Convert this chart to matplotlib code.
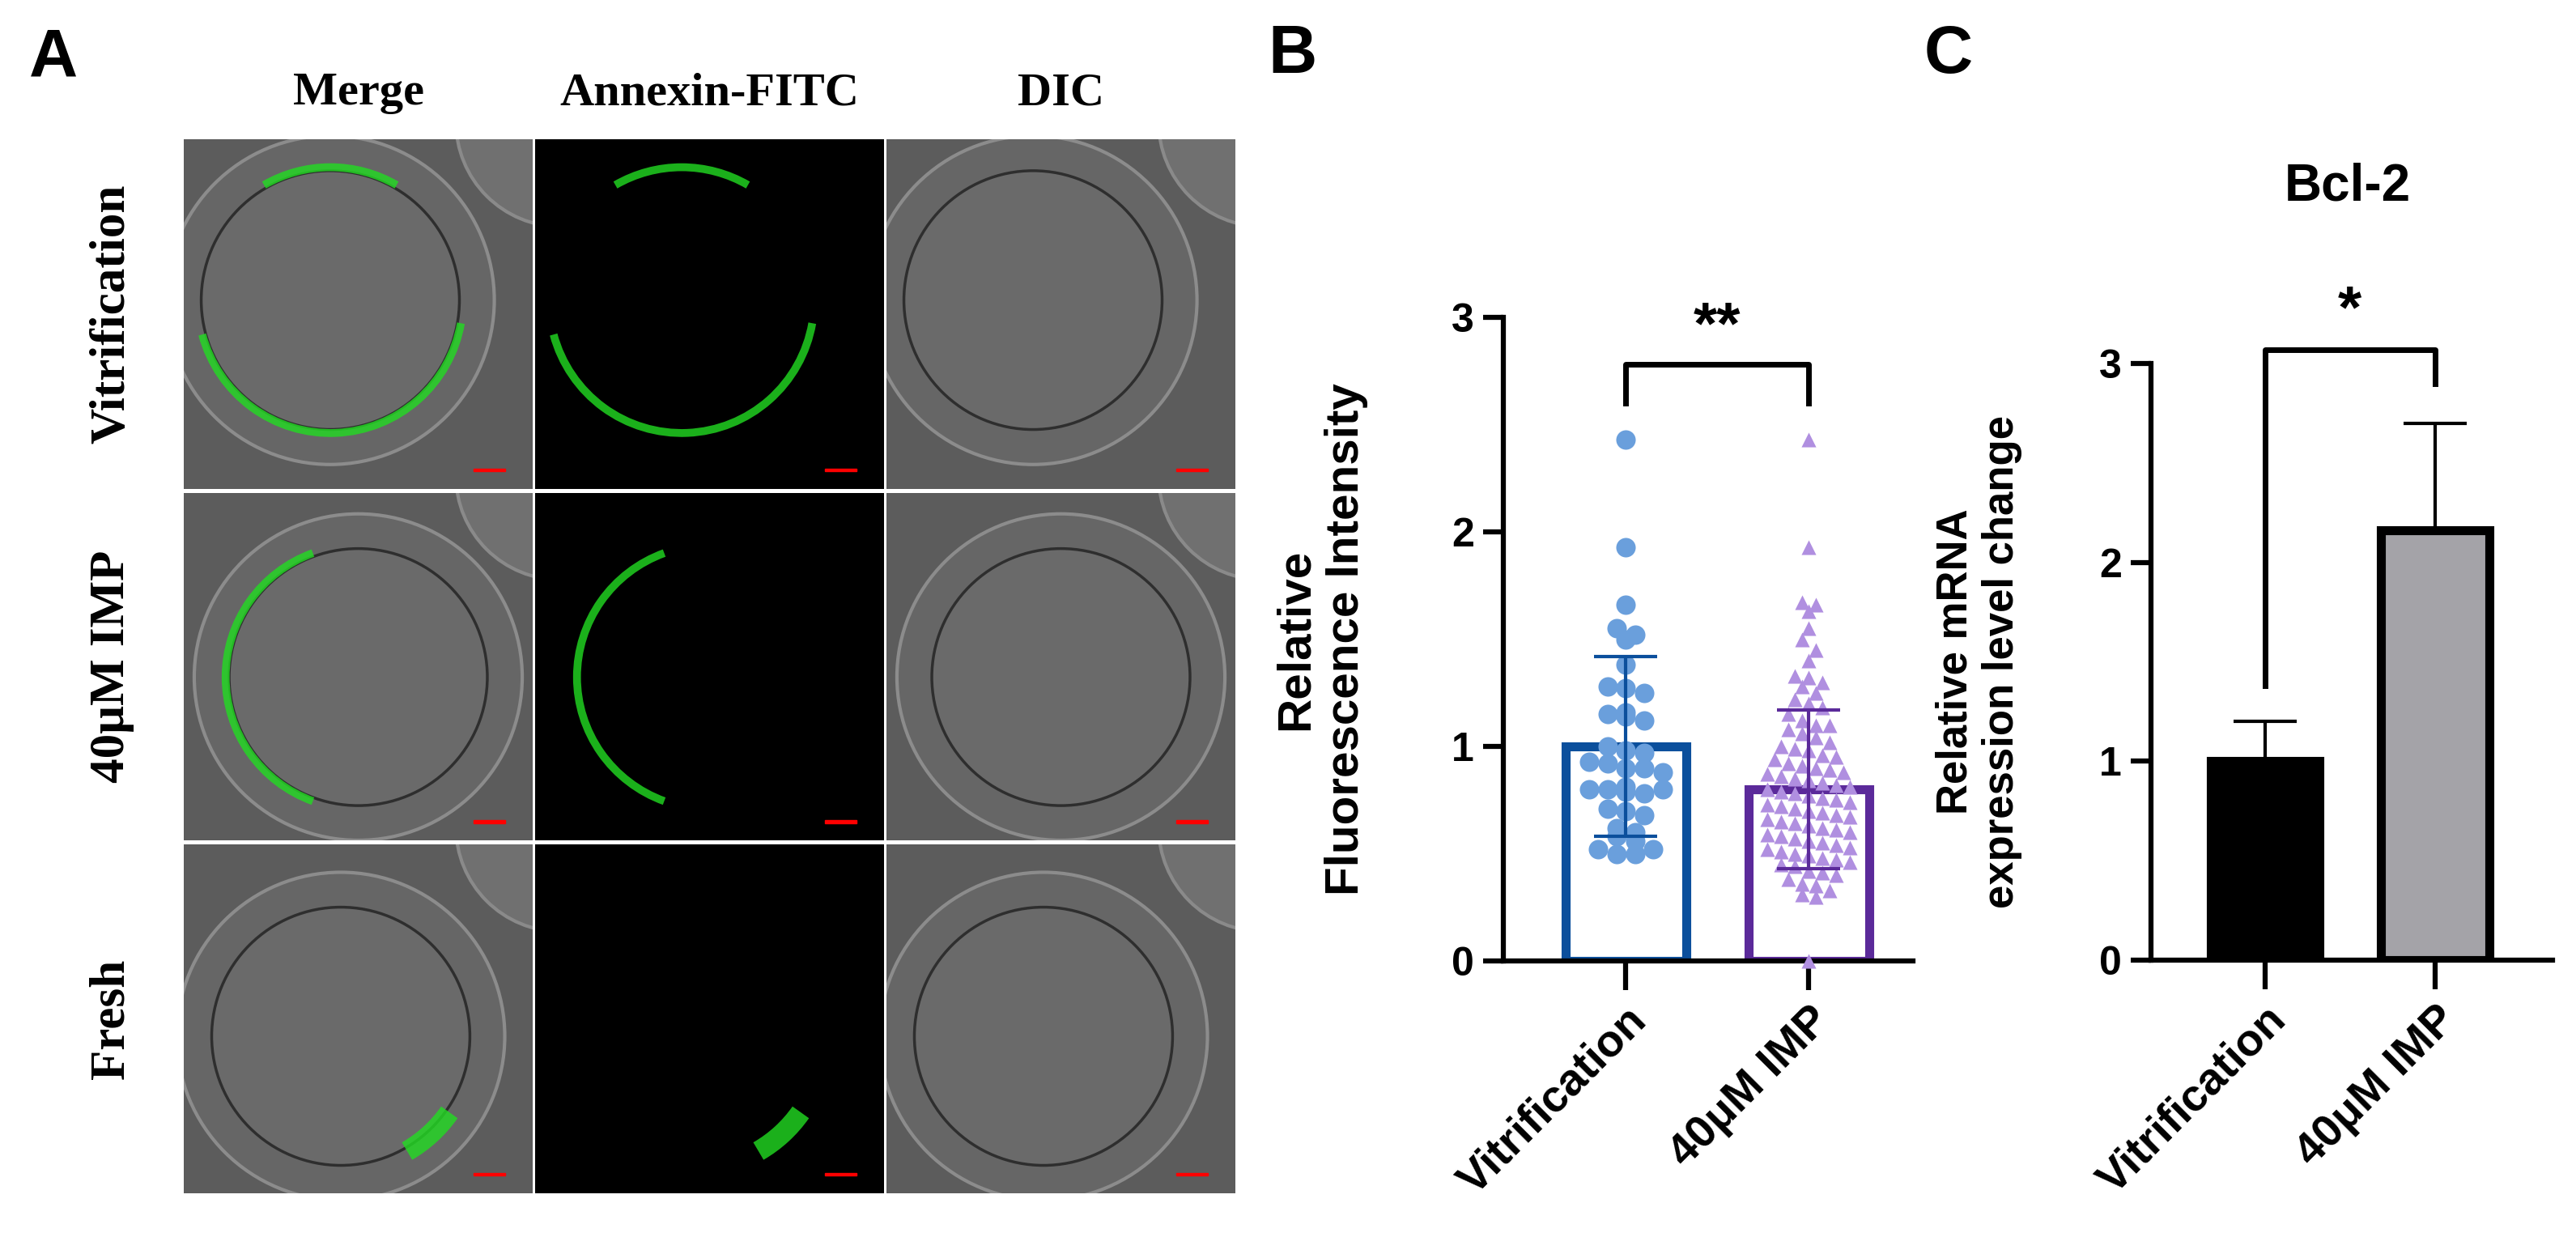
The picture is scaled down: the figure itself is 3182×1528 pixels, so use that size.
import matplotlib.pyplot as plt
import numpy as np
from matplotlib.patches import Circle, Arc, Rectangle

plt.rcParams['font.family'] = ['Liberation Sans', 'DejaVu Sans']

# panel B data
vit_vals = [2.43, 1.93, 1.66, 1.55, 1.52, 1.5, 1.38, 1.28, 1.27, 1.25, 1.16, 1.15, 1.14, 1.12,
            1.0, 0.98, 0.97, 0.93, 0.92, 0.9, 0.9, 0.88, 0.81, 0.8, 0.8, 0.79, 0.78, 0.8,
            0.71, 0.7, 0.68, 0.62, 0.6, 0.58, 0.56, 0.52, 0.5, 0.5, 0.52]
imp_vals = [2.43, 1.93, 1.67, 1.66, 1.63, 1.55, 1.5, 1.45, 1.4, 1.33, 1.32, 1.3, 1.28, 1.25,
            1.22, 1.2, 1.18, 1.15, 1.12, 1.1, 1.1, 1.08, 1.06, 1.04, 1.02, 1.0, 0.99, 0.98,
            0.96, 0.95, 0.94, 0.92, 0.91, 0.9, 0.89, 0.88, 0.87, 0.86, 0.85, 0.84, 0.83, 0.82,
            0.81, 0.8, 0.79, 0.78, 0.77, 0.76, 0.75, 0.74, 0.73, 0.72, 0.71, 0.7, 0.69, 0.68,
            0.67, 0.66, 0.65, 0.64, 0.63, 0.62, 0.61, 0.6, 0.59, 0.58, 0.57, 0.56, 0.55, 0.54,
            0.53, 0.52, 0.51, 0.5, 0.49, 0.48, 0.47, 0.46, 0.45, 0.44, 0.42, 0.41, 0.4, 0.38,
            0.36, 0.35, 0.33, 0.31, 0.3, 0.0]
b_means = [1.0, 0.8]
b_sds = [0.42, 0.37]

# panel C data
c_means = [1.0, 2.16]
c_sds = [0.2, 0.54]
groups = ['Vitrification', '40μM IMP']

row_labels = ['Vitrification', '40μM IMP', 'Fresh']
col_labels = ['Merge', 'Annexin-FITC', 'DIC']

fig = plt.figure(figsize=(31.82, 15.28), dpi=100)
W, H = 3182, 1528

def ax_px(x0, y0, x1, y1):
    return fig.add_axes([x0 / W, 1 - y1 / H, (x1 - x0) / W, (y1 - y0) / H])

# ---- panel A (schematic microscopy tiles)
cols_x = [(227, 658), (661, 1092), (1095, 1526)]
rows_y = [(172, 604), (609, 1038), (1043, 1474)]
centres = [(0.42, 0.54), (0.5, 0.47), (0.45, 0.45)]
green_arcs = [[(195, 350), (60, 120)], [(110, 250)], [(300, 325)]]
for r, (y0, y1) in enumerate(rows_y):
    cx, cy = centres[r]
    for c, (x0, x1) in enumerate(cols_x):
        ax = ax_px(x0, y0, x1, y1)
        ax.set_xlim(0, 1); ax.set_ylim(0, 1)
        ax.set_xticks([]); ax.set_yticks([])
        for s in ax.spines.values():
            s.set_visible(False)
        if c == 1:
            ax.set_facecolor('black')
        else:
            ax.set_facecolor('#5c5c5c')
            ax.add_patch(Circle((1.08, 1.05), 0.3, fc='#707070', ec='#8a8a8a', lw=3))
            ax.add_patch(Circle((cx, cy), 0.47, fc='#666666', ec='#8c8c8c', lw=3))
            ax.add_patch(Circle((cx, cy), 0.37, fc='#6a6a6a', ec='#2e2e2e', lw=2.5))
        ax.add_patch(Rectangle((0.83, 0.05), 0.09, 0.008, color='red'))
        if c < 2:
            for t1, t2 in green_arcs[r]:
                ax.add_patch(Arc((cx, cy), 0.76, 0.76, theta1=t1, theta2=t2,
                                 color='#22dd22', lw=7 if r < 2 else 18, alpha=0.8))
        if r == 0:
            fig.text((x0 + x1) / 2 / W, 1 - 115 / H, col_labels[c], ha='center', va='center',
                     fontsize=42, fontweight='bold', family='Liberation Serif')
    fig.text(138 / W, 1 - (y0 + y1) / 2 / H, row_labels[r], rotation=90, ha='center',
             va='center', fontsize=44, fontweight='bold', family='Liberation Serif')
fig.text(66 / W, 1 - 73 / H, 'A', fontsize=60, fontweight='bold', ha='center', va='center')
fig.text(1597 / W, 1 - 68 / H, 'B', fontsize=60, fontweight='bold', ha='center', va='center')
fig.text(2407 / W, 1 - 68 / H, 'C', fontsize=60, fontweight='bold', ha='center', va='center')

def style_axis(ax):
    ax.set_ylim(0, 3)
    ax.set_yticks([0, 1, 2, 3])
    ax.spines['top'].set_visible(False)
    ax.spines['right'].set_visible(False)
    for s in ['left', 'bottom']:
        ax.spines[s].set_linewidth(4.5)
    ax.tick_params(axis='y', width=4.5, length=18, labelsize=36, pad=8)
    ax.tick_params(axis='x', width=4.5, length=26, pad=8)
    for lab in ax.get_yticklabels():
        lab.set_fontweight('bold')
    ax.set_xticks([0, 1])
    ax.set_xticklabels(groups, rotation=45, ha='right', rotation_mode='anchor',
                       fontsize=40, fontweight='bold')

# ---- panel B
axb = ax_px(1857, 392, 2363, 1187)
axb.set_xlim(-0.67, 1.57)
bar_ec = ['#0b4f9c', '#5b2a9a']
pt_c = ['#6a9fdc', '#b08fe0']
for i, m in enumerate(b_means):
    axb.bar(i, m, width=0.66, fc='white', ec=bar_ec[i], lw=8)
for i, vals in enumerate([vit_vals, imp_vals]):
    vals = np.array(vals)
    xs = np.zeros(len(vals))
    step = 0.07
    bins = np.round(vals / step)
    for b in np.unique(bins):
        idx = np.where(bins == b)[0]
        n = len(idx)
        xs[idx] = (np.arange(n) - (n - 1) / 2) * (0.1 if i == 0 else 0.075)
    axb.scatter(i + xs, vals, s=300 if i == 0 else 170, c=pt_c[i],
                marker='o' if i == 0 else '^', zorder=3, lw=0, clip_on=False)
    axb.errorbar(i, b_means[i], yerr=b_sds[i], color=bar_ec[i], capsize=28, lw=3,
                 capthick=3, zorder=4)
axb.plot([0, 0, 1, 1], [2.6, 2.78, 2.78, 2.6], color='black', lw=5, clip_on=False)
axb.text(0.5, 2.82, '**', ha='center', va='bottom', fontsize=54, fontweight='bold')
style_axis(axb)
axb.set_ylabel('Relative\nFluorescence Intensity', fontsize=42, fontweight='bold')
axb.yaxis.set_label_coords(-0.33, 0.5)

# ---- panel C
axc = ax_px(2657, 449, 3153, 1186)
axc.set_xlim(-0.67, 1.69)
axc.bar([0, 1], c_means, width=0.64, color=['black', '#a4a3a8'], ec='black', lw=8)
axc.errorbar([0, 1], c_means, yerr=[[0, 0], c_sds], fmt='none', ecolor='black',
             capsize=28, lw=3, capthick=3)
axc.plot([0, 0, 1, 1], [1.38, 3.07, 3.07, 2.9], color='black', lw=5, clip_on=False)
axc.text(0.5, 3.12, '*', ha='center', va='bottom', fontsize=54, fontweight='bold')
style_axis(axc)
axc.set_ylabel('Relative mRNA\nexpression level change', fontsize=38, fontweight='bold')
axc.yaxis.set_label_coords(-0.32, 0.5)
fig.text(2900 / W, 1 - 230 / H, 'Bcl-2', fontsize=46, fontweight='bold', ha='center',
         va='center')

fig.savefig('out.png', dpi=100)
